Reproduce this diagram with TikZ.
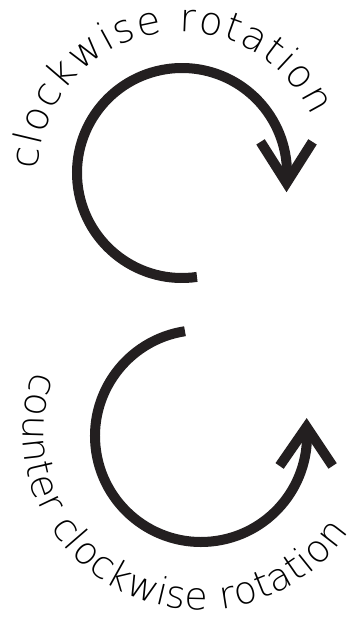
\documentclass[tikz,border=0pt]{standalone}
\usepackage{fontspec}
\newfontfamily\handfont{DejaVu Sans ExtraLight}
\usetikzlibrary{decorations.text,calc}
\definecolor{ink}{HTML}{231F20}
\tikzset{
  arcline/.style={line width=10pt, draw=ink, line cap=butt},
  chevron/.style={line width=10pt, draw=ink, line cap=butt, line join=miter},
  curvedlabel/.style={decorate, decoration={text along path, text align=fit to path, text={#1}}}
}
\begin{document}
\begin{tikzpicture}[x=1pt,y=1pt]
\useasboundingbox (0,0) rectangle (359,626);
\coordinate (topc) at (182,453);
\coordinate (botc) at (201,190);
\coordinate (toptxt) at (181,451);
\coordinate (bottxt) at (201,194);
% clockwise arrow
\draw[arcline] (topc) ++(278.2:105) arc[start angle=278.2, end angle=-5.4, radius=105] coordinate (topv);
\draw[chevron] ($(topv)+(-26,41)$) -- (topv) -- ($(topv)+(26,41)$);
% counter clockwise arrow
\draw[arcline] (botc) ++(98.7:106) arc[start angle=98.7, end angle=364.9, radius=106] coordinate (botv);
\draw[chevron] ($(botv)+(-27,-39)$) -- (botv) -- ($(botv)+(26,-39)$);
% labels
\path[curvedlabel={|\handfont\fontsize{39}{44}\selectfont|clockwise rotation}] (toptxt) ++(178:143) arc[start angle=178, end angle=24, radius=143];
\path[curvedlabel={|\handfont\fontsize{38}{44}\selectfont|counter clockwise rotation}] (bottxt) ++(160:178) arc[start angle=160, end angle=326, radius=178];
\end{tikzpicture}
\end{document}
